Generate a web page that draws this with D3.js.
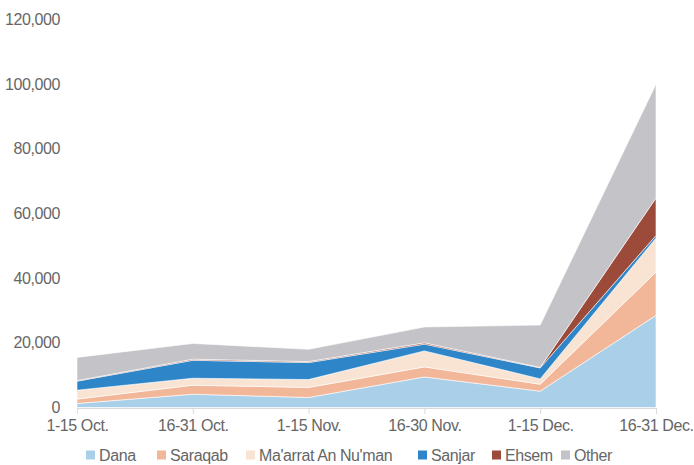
<!DOCTYPE html>
<head>
  <meta charset="utf-8">
  <script src="https://d3js.org/d3.v7.min.js"></script>
  <style>
    body { margin: 0; background: #fff; }
    text { font-family: "Liberation Sans", Arial, sans-serif; fill: #666; letter-spacing: -0.4px; }
  </style>
</head>
<body>

<svg width="694" height="465"></svg>

<script type="text/javascript">
// Data
var periods = ["1-15 Oct.", "16-31 Oct.", "1-15 Nov.", "16-30 Nov.", "1-15 Dec.", "16-31 Dec."];
var seriesNames = ["Dana", "Saraqab", "Ma'arrat An Nu'man", "Sanjar", "Ehsem", "Other"];
var dana     = [1250, 4100, 3100, 9450, 5050, 28500];
var saraqab  = [1350, 2800, 3100, 3100, 2150, 13400];
var maarrat  = [2750, 2150, 2450, 4950, 1650, 10500];
var sanjar   = [2800, 5550, 5250, 2100, 3400, 800];
var ehsem    = [150, 350, 300, 400, 150, 11600];
var other    = [7200, 4850, 3800, 4900, 13100, 35200];
var yTicks   = [0, 20000, 40000, 60000, 80000, 100000, 120000];
var colors   = ["#a9cfe9", "#f2b799", "#f9e3d2", "#2e85c8", "#9c4a3a", "#c4c4c8"];

var values = [dana, saraqab, maarrat, sanjar, ehsem, other];
var rows = periods.map(function(p, i) {
  var r = { period: p };
  seriesNames.forEach(function(s, j) { r[s] = values[j][i]; });
  return r;
});

var svg = d3.select("svg");

var x = d3.scalePoint().domain(periods).range([77, 656]);
var y = d3.scaleLinear().domain([0, 120000]).range([407.5, 19.5]);

var layers = d3.stack().keys(seriesNames)(rows);

var area = d3.area()
  .x(function(d) { return x(d.data.period); })
  .y0(function(d) { return y(d[0]); })
  .y1(function(d) { return y(d[1]); });

svg.append("g").selectAll("path")
  .data(layers)
  .enter().append("path")
  .attr("d", area)
  .attr("fill", function(d, i) { return colors[i]; })
  .attr("stroke", "#fff")
  .attr("stroke-width", 0.6);

// y axis labels (no line)
var yAxis = svg.append("g")
  .attr("transform", "translate(60,0)")
  .call(d3.axisLeft(y).tickValues(yTicks).tickFormat(d3.format(",")).tickSize(0).tickPadding(0));
yAxis.select(".domain").remove();
yAxis.selectAll("text").style("font-size", "16px").attr("fill", "#666");

// x axis
var xAxis = svg.append("g")
  .attr("transform", "translate(0,408)")
  .call(d3.axisBottom(x).tickSize(6).tickSizeOuter(0).tickPadding(6));
xAxis.select(".domain").attr("stroke", "#d9d9d9").attr("d", "M77,0.5H656");
xAxis.selectAll(".tick line").attr("stroke", "#d9d9d9");
xAxis.selectAll("text").style("font-size", "16px").attr("fill", "#666");

// legend
var legendX = [86, 157, 246, 418, 492, 561];
var legend = svg.append("g").selectAll("g")
  .data(seriesNames)
  .enter().append("g")
  .attr("transform", function(d, i) { return "translate(" + legendX[i] + ",455)"; });
legend.append("rect")
  .attr("x", 0).attr("y", -4.5)
  .attr("width", 9).attr("height", 9)
  .attr("fill", function(d, i) { return colors[i]; });
legend.append("text")
  .attr("x", 13).attr("dy", "0.35em")
  .style("font-size", "16px")
  .text(function(d) { return d; });
</script>
</body>
</html>
